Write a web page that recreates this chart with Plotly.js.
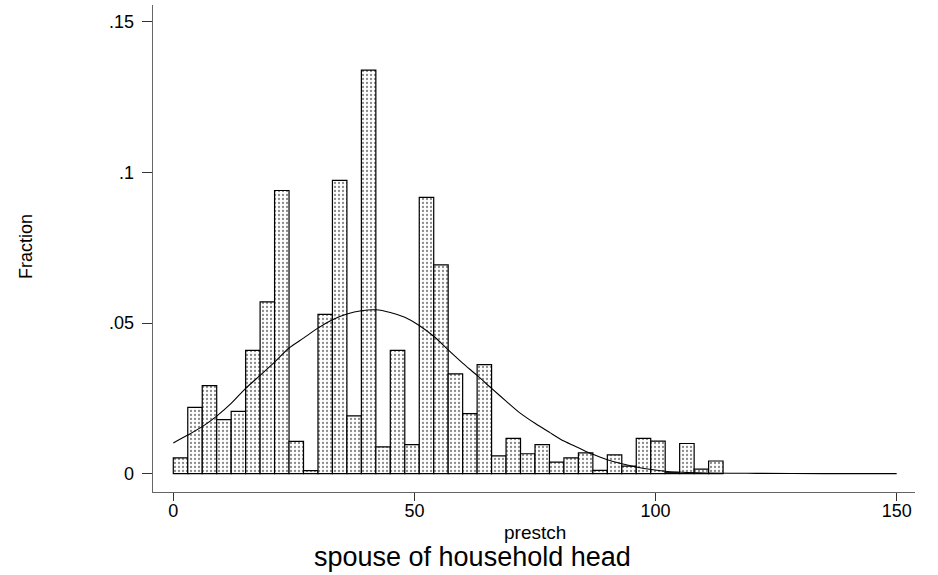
<!DOCTYPE html>
<html>
<head>
<meta charset="utf-8">
<script src="https://cdn.plot.ly/plotly-3.0.1.min.js"></script>
<style>
html,body{margin:0;padding:0;background:#fff;}
#chart{width:938px;height:575px;}
</style>
</head>
<body>
<div id="chart"></div>
<script>
// Histogram bins (width 3, starting at 0)
const binStarts = [0,3,6,9,12,15,18,21,24,27,30,33,36,39,42,45,48,51,54,57,60,63,66,69,72,75,78,81,84,87,90,93,96,99,102,105,108,111];
const binWidth = 3;
const fractions = [0.0052,0.0220,0.0292,0.0179,0.0207,0.0409,0.0570,0.0940,0.0107,0.0010,
                   0.0529,0.0974,0.0192,0.1340,0.0089,0.0409,0.0096,0.0917,0.0693,0.0331,
                   0.0199,0.0362,0.0059,0.0117,0.0066,0.0096,0.0038,0.0052,0.0069,0.0011,
                   0.0062,0.0025,0.0117,0.0108,0.0003,0.0100,0.0015,0.0042];

// Overlaid normal-density curve
const curveX = [0,3,6,9,12,15,18,21,24,27,30,33,36,39,42,45,48,51,54,57,60,63,66,69,72,75,78,81,84,87,90,93,96,102,109,121,135,150];
const curveY = [0.0102,0.0128,0.0156,0.0191,0.0233,0.0283,0.0326,0.0370,0.0417,0.0450,0.0483,0.0511,0.0530,0.0541,0.0544,0.0535,0.0519,0.0492,0.0456,0.0411,0.0367,0.0326,0.0283,0.0241,0.0200,0.0167,0.0137,0.0108,0.0086,0.0064,0.0046,0.0033,0.0022,0.0008,0.0003,0.0001,0,0];

const xTicks = [0,50,100,150];
const yTicks = [0,0.05,0.1,0.15];
const yTickText = ['0','.05','.1','.15'];

const FONT = 'Liberation Sans, Arial, sans-serif';

const bars = {
  type:'bar',
  x: binStarts.map(s => s + binWidth/2),
  y: fractions,
  width: binWidth,
  marker:{
    color:'#ffffff',
    line:{color:'#000000', width:1.2},
    pattern:{shape:'.', size:4, solidity:0.25, fgcolor:'#8a8a8a', bgcolor:'#ffffff'}
  },
  hoverinfo:'skip',
  showlegend:false
};

const curve = {
  type:'scatter',
  mode:'lines',
  x: curveX,
  y: curveY,
  line:{color:'#000000', width:1.1, shape:'spline', smoothing:0.8},
  hoverinfo:'skip',
  showlegend:false
};

const layout = {
  width:938, height:575,
  paper_bgcolor:'#ffffff', plot_bgcolor:'#ffffff',
  margin:{l:153, r:23, t:5, b:83},
  bargap:0,
  font:{family:FONT, color:'#000000', size:17},
  xaxis:{
    range:[-4.21, 153.8],
    tickmode:'array', tickvals:xTicks,
    ticks:'outside', ticklen:8, tickcolor:'#333333', tickwidth:1,
    ticklabelstandoff:-6,
    showline:true, linecolor:'#666666', linewidth:1.3,
    showgrid:false, zeroline:false,
    tickfont:{family:FONT, size:18}
  },
  yaxis:{
    range:[-0.0061, 0.1556],
    tickmode:'array', tickvals:yTicks, ticktext:yTickText,
    ticks:'outside', ticklen:10, tickcolor:'#333333', tickwidth:1,
    ticklabelstandoff:4,
    showline:true, linecolor:'#666666', linewidth:1.3,
    showgrid:false, zeroline:false,
    tickfont:{family:FONT, size:18}
  },
  annotations:[{
    text:'Fraction',
    xref:'paper', yref:'paper',
    x:-(153-26)/762, y:(492-247)/487,
    xanchor:'center', yanchor:'middle', textangle:-90,
    showarrow:false,
    font:{family:FONT, size:18, color:'#000000'}
  },{
    text:'prestch',
    xref:'paper', yref:'paper',
    x:(535-153)/762, y:-(532-492)/487,
    xanchor:'center', yanchor:'middle',
    showarrow:false,
    font:{family:FONT, size:19, color:'#000000'}
  },{
    text:'spouse of household head',
    xref:'paper', yref:'paper',
    x:(472-153)/762, y:-(557-492)/487,
    xanchor:'center', yanchor:'middle',
    showarrow:false,
    font:{family:FONT, size:27, color:'#000000'}
  }]
};

Plotly.newPlot('chart', [bars, curve], layout, {displayModeBar:false, staticPlot:true});
</script>
</body>
</html>
